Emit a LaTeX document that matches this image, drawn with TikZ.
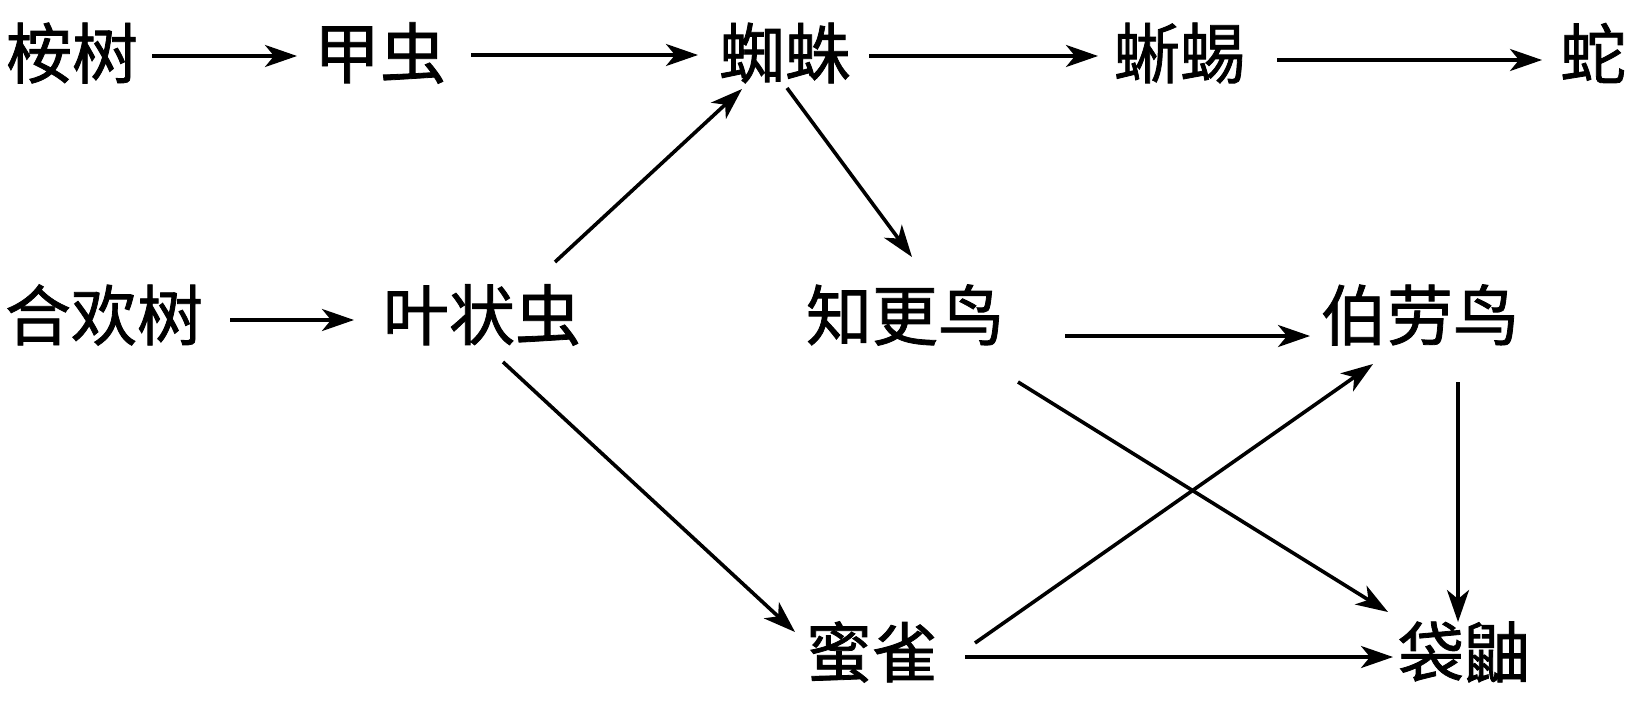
\documentclass[tikz,border=0pt]{standalone}
\usepackage{fontspec}
\newfontfamily\cjk{Noto Sans CJK SC}[FakeBold=1.2]
\usetikzlibrary{arrows.meta,calc}
\tikzset{
  lbl/.style={inner sep=0pt, outer sep=0pt, anchor=center, font=\cjk\fontsize{33pt}{36pt}\selectfont},
  arr/.style={line width=1.8pt, -{Stealth[length=16pt,width=11pt,inset=4.5pt]}}
}
\begin{document}
\begin{tikzpicture}[x=0.5pt,y=-0.5pt]
\useasboundingbox (0,0) rectangle (1642,722);
\node[lbl] (an) at (72,53) {桉树};
\node[lbl] (jia) at (380,53) {甲虫};
\node[lbl] (zhi) at (785,53) {蜘蛛};
\node[lbl] (xi) at (1180,53) {蜥蜴};
\node[lbl] (she) at (1593,53) {蛇};
\node[lbl] (he) at (104,315) {合欢树};
\node[lbl] (ye) at (482,315) {叶状虫};
\node[lbl] (zg) at (905,315) {知更鸟};
\node[lbl] (bl) at (1420,315) {伯劳鸟};
\node[lbl] (mq) at (872,652) {蜜雀};
\node[lbl] (dy) at (1464,652) {袋鼬};
\draw[arr] ($(an)+(80,3)$) -- ($(jia)+(-83,3)$);
\draw[arr] ($(jia)+(91,2)$) -- ($(zhi)+(-87,2)$);
\draw[arr] ($(zhi)+(84,3)$) -- ($(xi)+(-82,3)$);
\draw[arr] ($(xi)+(97,7)$) -- ($(she)+(-51,7)$);
\draw[arr] ($(he)+(126,5)$) -- ($(ye)+(-128,5)$);
\draw[arr] ($(ye)+(73,-53)$) -- ($(zhi)+(-43,36)$);
\draw[arr] ($(zhi)+(2,35)$) -- ($(zg)+(7,-58)$);
\draw[arr] ($(ye)+(21,47)$) -- ($(mq)+(-77,-20)$);
\draw[arr] ($(zg)+(160,21)$) -- ($(bl)+(-110,21)$);
\draw[arr] ($(zg)+(113,67)$) -- ($(dy)+(-76,-40)$);
\draw[arr] ($(mq)+(103,-9)$) -- ($(bl)+(-47,49)$);
\draw[arr] ($(mq)+(93,5)$) -- ($(dy)+(-71,5)$);
\draw[arr] ($(bl)+(38,67)$) -- ($(dy)+(-6,-30)$);
\end{tikzpicture}
\end{document}
